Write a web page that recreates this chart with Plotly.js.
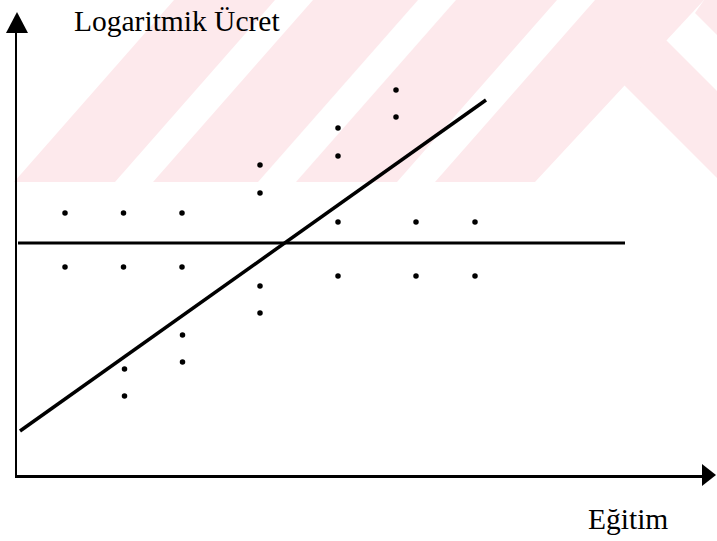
<!DOCTYPE html>
<html>
<head>
<meta charset="utf-8">
<script src="https://cdn.plot.ly/plotly-3.0.1.min.js"></script>
<style>html,body{margin:0;padding:0;background:#fff;}#chart{width:717px;height:541px;}</style>
</head>
<body>
<div id="chart"></div>
<script>
// ---- data (education on x, log wage on y; arbitrary units) ----
const flatDotsX = [48, 106.5, 165, 48, 106.5, 165, 321, 399, 458, 321, 399, 458];
const flatDotsY = [262, 262, 262, 208, 208, 208, 253, 253, 253, 199, 199, 199];
const riseDotsX = [107.5, 107.5, 165.5, 165.5, 243, 243, 243, 243, 321, 321, 379, 379];
const riseDotsY = [106, 79, 140, 113, 310, 282, 189, 162, 347, 319, 385, 358];
const flatLineX = [1, 608];
const flatLineY = [232, 232];
const fitLineX = [3, 469];
const fitLineY = [44, 375];
const yLabel = "Logaritmik Ücret";
const xLabel = "Eğitim";

// ---- layout geometry ----
const L = 17, R = 703, T = 32, B = 475;
const W = R - L, H = B - T;
const px = x => (x - L) / W;
const py = y => (B - y) / H;
function poly(pts, color) {
  const d = pts.map((p, i) => (i ? 'L' : 'M') + px(p[0]).toFixed(5) + ',' + py(p[1]).toFixed(5)).join(' ') + ' Z';
  return {type: 'path', xref: 'paper', yref: 'paper', path: d, fillcolor: color,
          line: {width: 0}, layer: 'below'};
}

const PINK = '#fde9ec';
const shapes = [];
// faint scan watermark
shapes.push(poly([[14, 182], [174, 0], [717, 0], [717, 182]], PINK));
const slope = 160; // horizontal shift across 182 px
[115, 258, 397].forEach(b => {
  shapes.push(poly([[b, 182], [b + 38, 182], [b + 38 + slope, 0], [b + slope, 0]], '#ffffff'));
});
// right part: white region right of the big "/" line, with a pink "\" band
shapes.push(poly([[535, 182], [704, 0], [717, 0], [717, 182]], '#ffffff'));
shapes.push(poly([[704, 0], [695, 13], [717, 35], [717, 0]], PINK));
shapes.push(poly([[666, 40], [624, 85], [717, 178], [717, 91]], PINK));

// axis arrow heads
shapes.push(poly([[17, 12], [6, 33], [28, 33]], '#000000'));
shapes.push({type: 'path', xref: 'paper', yref: 'paper',
  path: 'M' + px(702) + ',' + py(464) + ' L' + px(716) + ',' + py(475) + ' L' + px(702) + ',' + py(486) + ' Z',
  fillcolor: '#000', line: {width: 0}});

const traces = [
  {x: flatLineX, y: flatLineY, mode: 'lines', line: {color: '#000', width: 3}, hoverinfo: 'skip'},
  {x: fitLineX, y: fitLineY, mode: 'lines', line: {color: '#000', width: 3.5}, hoverinfo: 'skip'},
  {x: flatDotsX, y: flatDotsY, mode: 'markers', marker: {color: '#000', size: 5.5}},
  {x: riseDotsX, y: riseDotsY, mode: 'markers', marker: {color: '#000', size: 5.5}}
];

const axisCommon = {showline: true, linecolor: '#000', linewidth: 2.5, showgrid: false,
  zeroline: false, ticks: '', showticklabels: false, fixedrange: true};

const layout = {
  width: 717, height: 541,
  margin: {l: L, r: 717 - R, t: T, b: 541 - B, pad: 0},
  paper_bgcolor: '#ffffff', plot_bgcolor: 'rgba(0,0,0,0)',
  showlegend: false,
  xaxis: Object.assign({range: [0, W]}, axisCommon),
  yaxis: Object.assign({range: [0, H]}, axisCommon),
  shapes: shapes,
  annotations: [
    {text: yLabel, xref: 'paper', yref: 'paper', x: px(72), y: py(21), xanchor: 'left', yanchor: 'middle',
     showarrow: false, font: {family: 'Liberation Serif, Times New Roman, serif', size: 29.5, color: '#000'}},
    {text: xLabel, xref: 'paper', yref: 'paper', x: px(586), y: py(519), xanchor: 'left', yanchor: 'middle',
     showarrow: false, font: {family: 'Liberation Serif, Times New Roman, serif', size: 29.5, color: '#000'}}
  ]
};

Plotly.newPlot('chart', traces, layout, {staticPlot: true, displayModeBar: false});
</script>
</body>
</html>
